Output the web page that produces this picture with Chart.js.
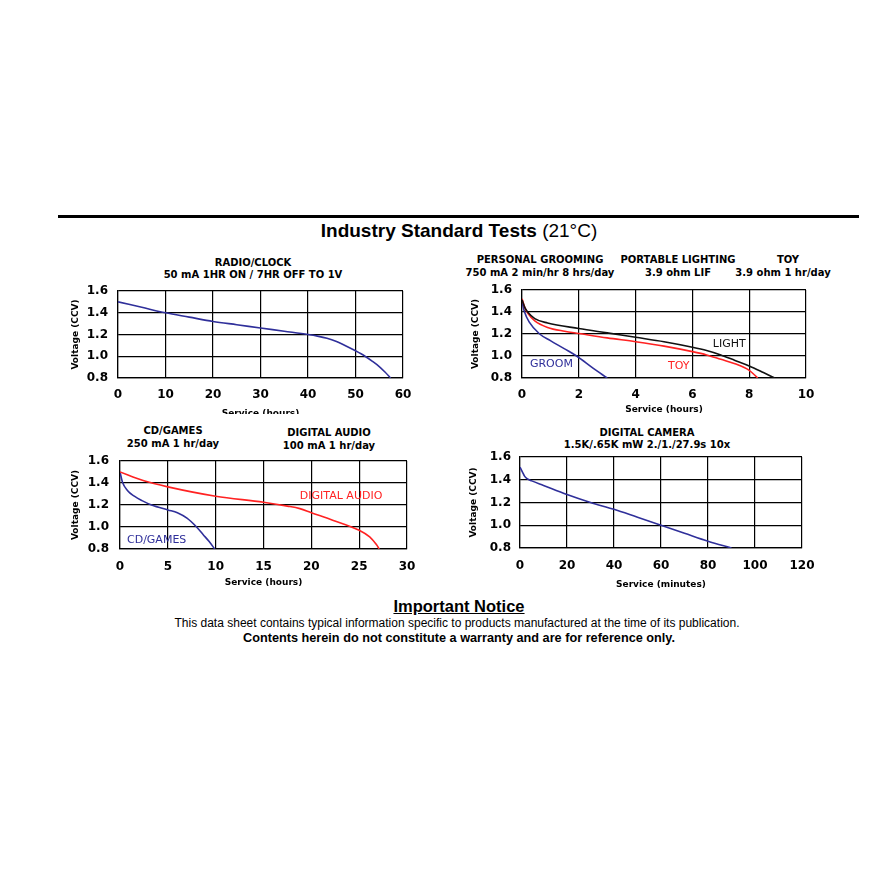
<!DOCTYPE html>
<html><head><meta charset="utf-8">
<script src="https://cdn.jsdelivr.net/npm/chart.js@4.4.0/dist/chart.umd.min.js"></script>
<style>
body{margin:0;background:#fff;width:870px;height:870px;position:relative;overflow:hidden;font-family:"DejaVu Sans",sans-serif;}
.rule{position:absolute;left:58px;top:215px;width:801px;height:3px;background:#000;}
.t{position:absolute;white-space:nowrap;transform:translateX(-50%);color:#000;}
.h{font:bold 10px "DejaVu Sans";line-height:12px;height:12px;}
.main{font:bold 19px "Liberation Sans";line-height:22px;}
.main span{font-weight:normal;}
.n1{font:bold 16.5px "Liberation Sans";line-height:19px;text-decoration:underline;}
.n2{font:12px "Liberation Sans";line-height:14px;}
.n3{font:bold 12.7px "Liberation Sans";line-height:15px;}
canvas{position:absolute;}
</style></head><body>
<div class="rule"></div>
<div class="t main" style="left:459px;top:220px;">Industry Standard Tests <span>(21°C)</span></div>

<div class="t h" style="left:253px;top:257px;">RADIO/CLOCK</div>
<div class="t h" style="left:253px;top:269px;">50 mA 1HR ON / 7HR OFF TO 1V</div>

<div class="t h" style="left:540px;top:254px;">PERSONAL GROOMING</div>
<div class="t h" style="left:540px;top:267px;">750 mA 2 min/hr 8 hrs/day</div>
<div class="t h" style="left:678px;top:254px;">PORTABLE LIGHTING</div>
<div class="t h" style="left:678px;top:267px;">3.9 ohm LIF</div>
<div class="t h" style="left:788px;top:254px;">TOY</div>
<div class="t h" style="left:783px;top:267px;">3.9 ohm 1 hr/day</div>

<div class="t h" style="left:173px;top:425px;">CD/GAMES</div>
<div class="t h" style="left:173px;top:438px;">250 mA 1 hr/day</div>
<div class="t h" style="left:329px;top:427px;">DIGITAL AUDIO</div>
<div class="t h" style="left:329px;top:440px;">100 mA 1 hr/day</div>

<div class="t h" style="left:647px;top:427px;">DIGITAL CAMERA</div>
<div class="t h" style="left:647px;top:439px;">1.5K/.65K mW 2./1./27.9s 10x</div>

<canvas id="c1" width="360" height="131" style="left:60px;top:283px;"></canvas>
<canvas id="c2" width="370" height="138" style="left:460px;top:282px;"></canvas>
<canvas id="c3" width="360" height="139" style="left:60px;top:453px;"></canvas>
<canvas id="c4" width="370" height="144" style="left:460px;top:449px;"></canvas>

<div class="t n1" style="left:459px;top:597px;">Important Notice</div>
<div class="t n2" style="left:457px;top:616px;">This data sheet contains typical information specific to products manufactured at the time of its publication.</div>
<div class="t n3" style="left:459px;top:631px;">Contents herein do not constitute a warranty and are for reference only.</div>

<script>
// ---- data ----
const yTicks = [0.8, 1.0, 1.2, 1.4, 1.6];

const radioHours = [0, 5, 10, 15, 20, 25, 30, 35, 40, 42, 44, 46, 48, 50, 52, 53.5, 55, 56.2, 57.4];
const radioVolts = [1.50, 1.45, 1.40, 1.36, 1.32, 1.29, 1.26, 1.23, 1.20, 1.185, 1.165, 1.135, 1.095, 1.05, 1.00, 0.955, 0.905, 0.855, 0.80];

const groomHours = [0, 0.09, 0.25, 0.62, 1, 1.5, 1.92, 2.5, 3];
const groomVolts = [1.49, 1.40, 1.31, 1.20, 1.14, 1.065, 1.00, 0.89, 0.80];

const lightHours = [0, 0.1, 0.2, 0.45, 0.9, 2, 3, 4, 5, 6, 6.5, 7, 7.5, 8, 8.5, 8.9];
const lightVolts = [1.51, 1.44, 1.40, 1.34, 1.30, 1.25, 1.21, 1.17, 1.13, 1.08, 1.05, 1.01, 0.96, 0.91, 0.85, 0.80];

const toyHours = [0, 0.1, 0.2, 0.45, 0.9, 1.5, 2, 3, 4, 5, 6, 6.5, 7, 7.5, 8, 8.3];
const toyVolts = [1.52, 1.44, 1.39, 1.32, 1.26, 1.225, 1.205, 1.165, 1.13, 1.09, 1.04, 1.01, 0.97, 0.93, 0.87, 0.80];

const cdHours = [0, 0.25, 0.8, 1.5, 2.3, 3.3, 5, 6, 7, 8, 8.7, 9.3, 9.9];
const cdVolts = [1.50, 1.41, 1.33, 1.28, 1.24, 1.20, 1.155, 1.13, 1.08, 1.00, 0.93, 0.87, 0.80];

const audioHours = [0, 2.5, 5, 10, 15, 17.5, 18.8, 20, 22.3, 25, 26.1, 26.8, 27.1];
const audioVolts = [1.50, 1.42, 1.365, 1.28, 1.225, 1.19, 1.167, 1.13, 1.06, 0.97, 0.91, 0.84, 0.80];

const cameraMinutes = [0, 1, 2, 3, 5, 10, 20, 30, 40, 50, 60, 70, 80, 90];
const cameraVolts = [1.51, 1.47, 1.43, 1.41, 1.39, 1.35, 1.27, 1.20, 1.14, 1.07, 1.00, 0.93, 0.86, 0.80];

const BLUE = '#2f2f9a';
const RED = '#ff2222';
const BLACK = '#111111';

// ---- helpers ----
const pts = (xs, ys) => xs.map((x, i) => ({x: x, y: ys[i]}));
const tickFont = {family: 'DejaVu Sans', size: 12, weight: 'bold'};
const titleFont = {family: 'DejaVu Sans', size: 9, weight: 'bold'};

function ds(xs, ys, color) {
  return {data: pts(xs, ys), borderColor: color, borderWidth: 1.6, pointRadius: 0,
          cubicInterpolationMode: 'monotone', fill: false};
}

const annot = {
  id: 'annot',
  afterDatasetsDraw(chart, args, opts) {
    const {ctx, scales: {x, y}} = chart;
    (opts.items || []).forEach(it => {
      ctx.save();
      ctx.font = '11px "DejaVu Sans"';
      ctx.fillStyle = it.color;
      ctx.textAlign = 'left';
      ctx.textBaseline = 'middle';
      ctx.fillText(it.text, x.getPixelForValue(it.x), y.getPixelForValue(it.y));
      ctx.restore();
    });
  }
};

function make(id, datasets, o) {
  return new Chart(document.getElementById(id), {
    type: 'line',
    data: {datasets: datasets},
    plugins: [annot],
    options: {
      responsive: false, animation: false, devicePixelRatio: 1,
      layout: {padding: {top: 8, right: o.padRight, left: 0, bottom: 0}},
      plugins: {legend: {display: false}, tooltip: {enabled: false}, annot: {items: o.items || []}},
      scales: {
        x: {type: 'linear', min: 0, max: o.xMax,
            ticks: {stepSize: o.xStep, padding: o.xTickPad, font: tickFont, color: '#000', maxRotation: 0, autoSkip: false},
            grid: {color: '#000', lineWidth: 1.2, drawTicks: false},
            border: {color: '#000', width: 1.2},
            title: {display: true, text: o.xTitle, font: titleFont, color: '#000', padding: {top: 0, bottom: o.xTitleBottom}},
            afterFit(s) { s.height = o.xH; s.paddingLeft = 0; s.paddingRight = 0; }},
        y: {type: 'linear', min: 0.8, max: 1.6,
            afterBuildTicks(s) { s.ticks = yTicks.map(v => ({value: v})); },
            ticks: {padding: o.yTickPad, font: tickFont, color: '#000', callback: v => Number(v).toFixed(1)},
            grid: {color: '#000', lineWidth: 1.2, drawTicks: false},
            border: {color: '#000', width: 1.2},
            title: {display: true, text: 'Voltage (CCV)', font: titleFont, color: '#000', padding: {top: o.yTitleLeft, bottom: 0}},
            afterFit(s) { s.width = o.yW; s.paddingTop = 0; s.paddingBottom = 0; }}
      }
    }
  });
}

make('c1', [ds(radioHours, radioVolts, BLUE)],
  {xMax: 60, xStep: 10, xTitle: 'Service (hours)', padRight: 17, yW: 58, xH: 36,
   xTickPad: 10, yTickPad: 10, yTitleLeft: 10, xTitleBottom: -5});

make('c2', [ds(lightHours, lightVolts, BLACK), ds(toyHours, toyVolts, RED), ds(groomHours, groomVolts, BLUE)],
  {xMax: 10, xStep: 2, xTitle: 'Service (hours)', padRight: 24, yW: 62, xH: 42,
   xTickPad: 10, yTickPad: 10, yTitleLeft: 10, xTitleBottom: 5,
   items: [{text: 'GROOM', x: 0.28, y: 0.93, color: BLUE},
           {text: 'LIGHT', x: 6.72, y: 1.11, color: BLACK},
           {text: 'TOY', x: 5.14, y: 0.91, color: RED}]});

make('c3', [ds(audioHours, audioVolts, RED), ds(cdHours, cdVolts, BLUE)],
  {xMax: 30, xStep: 5, xTitle: 'Service (hours)', padRight: 13, yW: 60, xH: 43,
   xTickPad: 11, yTickPad: 11, yTitleLeft: 10, xTitleBottom: 4,
   items: [{text: 'DIGITAL AUDIO', x: 18.8, y: 1.28, color: RED},
           {text: 'CD/GAMES', x: 0.73, y: 0.88, color: BLUE}]});

make('c4', [ds(cameraMinutes, cameraVolts, BLUE)],
  {xMax: 120, xStep: 20, xTitle: 'Service (minutes)', padRight: 28, yW: 60, xH: 45,
   xTickPad: 11, yTickPad: 9, yTitleLeft: 8, xTitleBottom: 3});
</script>
</body></html>
